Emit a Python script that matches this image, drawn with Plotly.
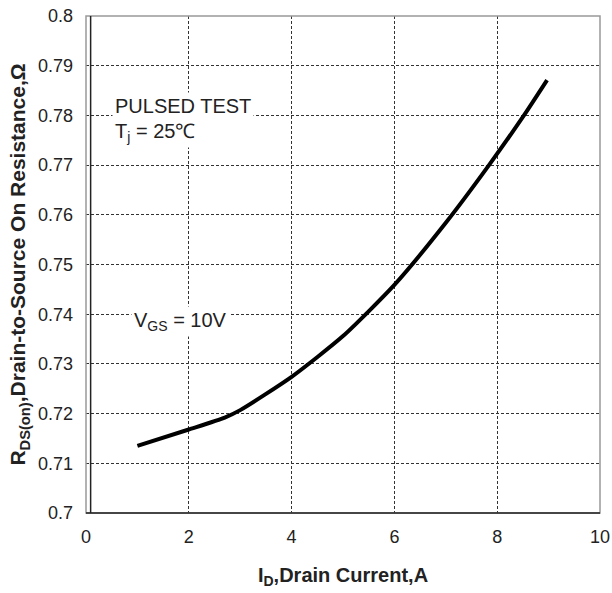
import plotly.graph_objects as go

current_a = [1.0, 2.0, 2.7, 3.0, 4.0, 5.0, 6.0, 7.0, 7.84, 8.52, 8.97]
rds_on = [0.7135, 0.7168, 0.7192, 0.7207, 0.7274, 0.7356, 0.7459, 0.7584, 0.7700, 0.7800, 0.7871]
x_ticks = [0, 2, 4, 6, 8, 10]
y_ticks = [0.70, 0.71, 0.72, 0.73, 0.74, 0.75, 0.76, 0.77, 0.78, 0.79, 0.80]
y_tick_text = ["0.7", "0.71", "0.72", "0.73", "0.74", "0.75", "0.76", "0.77", "0.78", "0.79", "0.8"]

fig = go.Figure()
fig.add_trace(go.Scatter(x=current_a, y=rds_on, mode="lines",
                         line=dict(color="black", width=4, shape="spline", smoothing=0.6),
                         showlegend=False, hoverinfo="skip"))

font = "Liberation Sans, Arial, sans-serif"
fig.update_layout(
    width=612, height=593,
    margin=dict(l=86, r=12, t=16, b=80),
    paper_bgcolor="white", plot_bgcolor="white",
    font=dict(family=font, color="#222", size=18),
    xaxis=dict(range=[0, 10], tickvals=x_ticks, showgrid=True, gridcolor="#333",
               griddash="3px,2px", gridwidth=1, zeroline=False,
               showline=False, ticks="", tickfont=dict(size=18),
               ticklabelstandoff=11, automargin=False, ticklabeloverflow="allow",
               title=dict(text="<b>I<sub>D</sub>,Drain Current,A</b>", font=dict(size=20), standoff=21)),
    yaxis=dict(range=[0.70, 0.80], tickvals=y_ticks, ticktext=y_tick_text, showgrid=True,
               gridcolor="#333", griddash="3px,2px", gridwidth=1, zeroline=False,
               showline=False, ticks="", tickfont=dict(size=18),
               ticklabelstandoff=12, automargin=False, ticklabeloverflow="allow",
               title=dict(text="<b>R<sub>DS(on)</sub>,Drain-to-Source On Resistance,Ω</b>",
                          font=dict(size=21), standoff=6)),
)

# gray outer frame
fig.add_shape(type="rect", xref="x domain", yref="y domain", x0=0, x1=1, y0=0, y1=1,
              line=dict(color="#999", width=1.5), layer="above")
# black bottom axis line
fig.add_shape(type="line", xref="x domain", yref="y domain", x0=0, x1=1, y0=0, y1=0,
              line=dict(color="#222", width=1.5), layer="above")
# black inner left axis line (double-line look)
fig.add_shape(type="line", xref="x", yref="y domain", x0=0.09, x1=0.09, y0=0, y1=1,
              line=dict(color="#222", width=1.5), layer="above")

fig.add_annotation(x=0.5, y=0.7819, xref="x", yref="y", xanchor="left", yanchor="middle",
                   text="PULSED TEST", showarrow=False, bgcolor="white", borderpad=2,
                   font=dict(size=20, color="#222"))
fig.add_annotation(x=0.5, y=0.7766, xref="x", yref="y", xanchor="left", yanchor="middle",
                   text="T<sub>j</sub> = 25℃", showarrow=False, bgcolor="white", borderpad=2,
                   font=dict(size=20, color="#222"))
fig.add_annotation(x=0.87, y=0.7385, xref="x", yref="y", xanchor="left", yanchor="middle",
                   text="V<sub>GS</sub> = 10V", showarrow=False, bgcolor="white", borderpad=2,
                   font=dict(size=20, color="#222"))

fig.write_html("out.html", config={"displayModeBar": False},
               post_script="document.body.style.margin='0px';document.body.style.overflow='hidden';")
